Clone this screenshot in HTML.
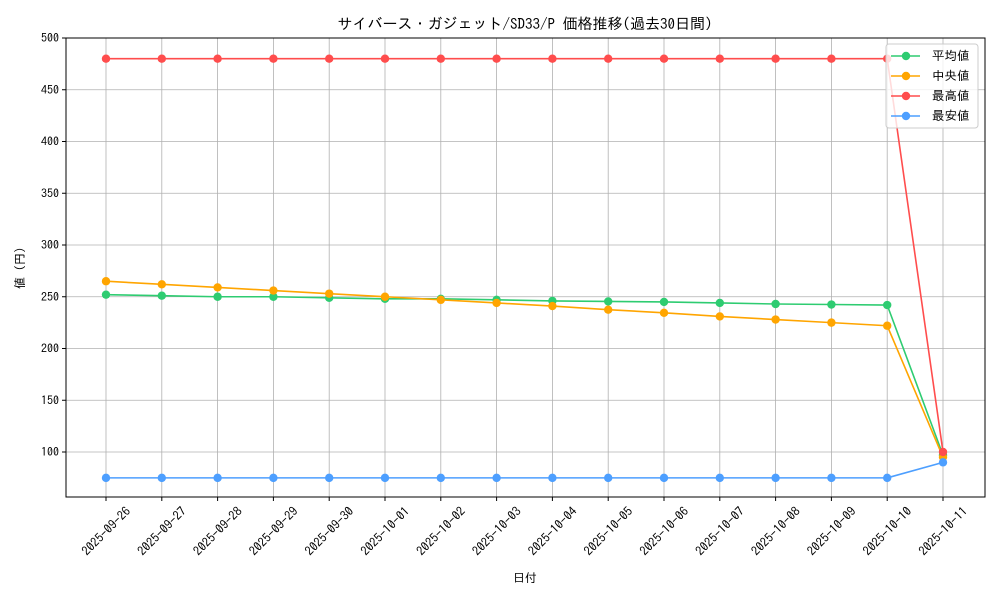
<!DOCTYPE html>
<html><head><meta charset="utf-8"><style>
body{margin:0;background:#fff}
text{font-family:"IPAGothic","Liberation Sans",sans-serif;font-size:12px;fill:#000}
</style></head><body>
<svg id="s" width="1000" height="600" xmlns="http://www.w3.org/2000/svg"></svg>
<script>
const s=document.getElementById('s');let h='';
const X=i=>106+i*55.8, Y=v=>38+(500-v)*1.035;
const dates=['2025-09-26','2025-09-27','2025-09-28','2025-09-29','2025-09-30','2025-10-01','2025-10-02','2025-10-03','2025-10-04','2025-10-05','2025-10-06','2025-10-07','2025-10-08','2025-10-09','2025-10-10','2025-10-11'];
dates.forEach((d,i)=>{h+=`<line x1="${X(i)}" y1="38" x2="${X(i)}" y2="497" stroke="#b0b0b0" stroke-width="0.8"/>`;
h+=`<line x1="${X(i)}" y1="497" x2="${X(i)}" y2="501" stroke="#000"/>`;
h+=`<text transform="translate(${X(i)},531) rotate(-45)" text-anchor="middle" dominant-baseline="central" style="font-size:12.5px">${d}</text>`;});
for(let v=100;v<=500;v+=50){h+=`<line x1="66" y1="${Y(v)}" x2="985" y2="${Y(v)}" stroke="#b0b0b0" stroke-width="0.8"/>`;
h+=`<line x1="62" y1="${Y(v)}" x2="66" y2="${Y(v)}" stroke="#000"/><text x="59" y="${Y(v)+4}" text-anchor="end">${v}</text>`;}
const series=[
['#2ecc71',[252,251,250,250,249,248,248,247,246,245.5,245,244,243,242.5,242,97]],
['#ffa500',[265,262,259,256,253,250,247,244,241,237.5,234.5,231,228,225,222,95]],
['#ff4d4d',[480,480,480,480,480,480,480,480,480,480,480,480,480,480,480,100]],
['#4d9fff',[75,75,75,75,75,75,75,75,75,75,75,75,75,75,75,90]]];
series.forEach(([c,d])=>{h+=`<polyline fill="none" stroke="${c}" stroke-width="1.6" points="${d.map((v,i)=>X(i)+','+Y(v)).join(' ')}"/>`;
d.forEach((v,i)=>h+=`<circle cx="${X(i)}" cy="${Y(v)}" r="4.2" fill="${c}"/>`);});
h+=`<rect x="66" y="38" width="919" height="459" fill="none" stroke="#000" stroke-width="1"/>`;
h+=`<text x="525" y="29" text-anchor="middle" style="font-size:15px">サイバース・ガジェット/SD33/P 価格推移(過去30日間)</text>`;
h+=`<text x="525" y="582" text-anchor="middle">日付</text>`;
h+=`<text transform="translate(24,268) rotate(-90)" text-anchor="middle">値 (円)</text>`;
h+=`<rect x="886" y="44" width="92" height="84" rx="3" fill="#fff" fill-opacity="0.8" stroke="#ccc"/>`;
['平均値','中央値','最高値','最安値'].forEach((t,i)=>{const y=56+i*20;const c=series[i][0];
h+=`<line x1="891" y1="${y}" x2="920" y2="${y}" stroke="${c}" stroke-width="1.6"/><circle cx="906" cy="${y}" r="4.2" fill="${c}"/><text x="932" y="${y+4}" style="font-size:12.5px">${t}</text>`;});
s.innerHTML=h;
</script>
</body></html>
